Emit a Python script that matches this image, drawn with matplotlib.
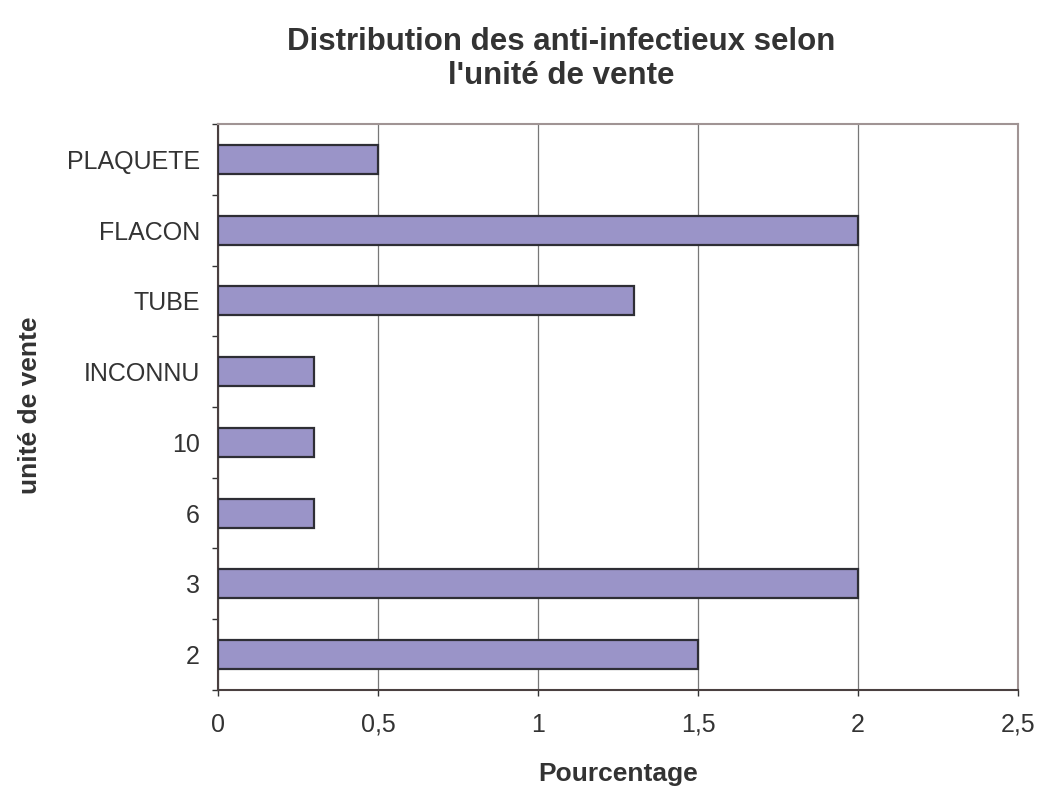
import numpy as np
import matplotlib.pyplot as plt

# données
categories = ['2', '3', '6', '10', 'INCONNU', 'TUBE', 'FLACON', 'PLAQUETE']
pourcentages = [1.5, 2.0, 0.3, 0.3, 0.3, 1.3, 2.0, 0.5]
x_ticks = [0, 0.5, 1, 1.5, 2, 2.5]
x_labels = ['0', '0,5', '1', '1,5', '2', '2,5']

plt.rcParams['font.family'] = ['Liberation Sans', 'DejaVu Sans']
txt_col = '#333333'

fig = plt.figure(figsize=(10.39, 7.87), dpi=100)
ax = fig.add_axes([0.2098, 0.1233, 0.77, 0.7191])

y = np.arange(len(categories))
ax.barh(y, pourcentages, height=0.41, color='#9A94C8',
        edgecolor='#2E2E35', linewidth=1.6, zorder=3)

ax.set_xlim(0, 2.5)
ax.set_ylim(-0.5, len(categories) - 0.5)
ax.set_xticks(x_ticks)
ax.set_xticklabels(x_labels, fontsize=18, color=txt_col)
ax.set_yticks(y)
ax.set_yticklabels(categories, fontsize=18, color=txt_col)
ax.tick_params(axis='y', length=0, pad=13)
# petits traits entre les catégories
ax.set_yticks(np.arange(-0.5, len(categories)), minor=True)
ax.tick_params(axis='y', which='minor', length=4.5, width=1, color='#333333')
ax.tick_params(axis='x', length=4.5, width=1, color='#333333', pad=12)

ax.grid(axis='x', color='#777777', linewidth=0.9, zorder=0)
ax.spines['left'].set_color('#4a4040')
ax.spines['bottom'].set_color('#4a4040')
ax.spines['top'].set_color('#A09494')
ax.spines['right'].set_color('#A09494')
for s in ax.spines.values():
    s.set_linewidth(1.5)

fig.text(0.5948, 0.016, 'Pourcentage', ha='center', va='center',
         fontsize=19, fontweight='bold', color=txt_col)
fig.text(0.029, 0.4854, 'unité de vente', ha='center', va='center',
         rotation=90, fontsize=19, fontweight='bold', color=txt_col)

fig.text(0.54, 0.925, "Distribution des anti-infectieux selon\nl'unité de vente",
         ha='center', va='center', fontsize=22.5, fontweight='bold',
         linespacing=1.15, color=txt_col)

fig.savefig('out.png', dpi=100)
